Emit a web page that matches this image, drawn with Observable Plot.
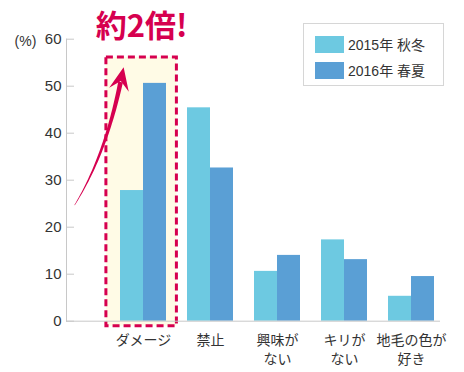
<!DOCTYPE html>
<html><head><meta charset="utf-8">
<script src="https://cdn.jsdelivr.net/npm/d3@7"></script>
<script src="https://cdn.jsdelivr.net/npm/@observablehq/plot@0.6"></script>
<style>
body{margin:0;background:#fff;}
#wrap{position:relative;width:464px;height:372px;font-family:"Liberation Sans","Noto Sans CJK JP",sans-serif;}
#legend{position:absolute;left:303px;top:23px;width:141px;height:63px;border:1px solid #d6d6d6;box-sizing:border-box;background:#fff;}
.item{position:absolute;left:11px;display:flex;align-items:center;font-size:14px;color:#333;white-space:pre;}
.sw{width:29px;height:17px;margin-right:4px;}
</style></head>
<body><div id="wrap"></div>
<script>
const categories = ["ダメージ", "禁止", "興味が\nない", "キリが\nない", "地毛の色が\n好き"];
const series = ["2015年 秋冬", "2016年 春夏"];
const values2015 = [27.8, 45.4, 10.6, 17.3, 5.3];
const values2016 = [50.6, 32.6, 14.0, 13.1, 9.5];
const yTicks = [0, 10, 20, 30, 40, 50, 60];
const colors = ["#6dc9e1", "#5a9fd5"];
const title = "約2倍!";
const unitLabel = "(%)";
const highlight = "ダメージ";
const highlightTop = 56.1;
const arrowValues = [24.6, 35.3, 50.8]; // tail, bend, head (y values)

const crimson = "#d6004f";
const axisGray = "#c8c8c8";
const font = '"Liberation Sans","Noto Sans CJK JP",sans-serif';

const rows = categories.flatMap((c, i) => [
  {cat: c, series: series[0], value: values2015[i]},
  {cat: c, series: series[1], value: values2016[i]}
]);

const W = 464, H = 372, mL = 66, mR = 24, mT = 38.7, mB = 51.3;
const half = 23;
const shift = -3.4; // annotation offset relative to the highlighted band centre

const plot = Plot.plot({
  width: W, height: H,
  marginLeft: mL, marginRight: mR, marginTop: mT, marginBottom: mB,
  style: {fontFamily: font, fontSize: "14px", color: "#333", background: "transparent", overflow: "visible"},
  x: {type: "band", domain: categories, range: [118.6, 434.6], paddingInner: 0.3185, paddingOuter: 0, align: 0.5, label: null},
  y: {domain: [0, 60], label: null},
  color: {domain: series, range: colors},
  marks: [
    Plot.barY([highlight], {x: d => d, y1: 0, y2: highlightTop, insetLeft: -14.1, insetRight: -10.4, insetBottom: -5,
      fill: "#fffbe6", stroke: crimson, strokeWidth: 3, strokeDasharray: "7,4"}),
    Plot.barY(rows.filter(d => d.series === series[0]), {x: "cat", y: "value", fill: "series", insetRight: half}),
    Plot.barY(rows.filter(d => d.series === series[1]), {x: "cat", y: "value", fill: "series", insetLeft: half}),
    Plot.frame({anchor: "left", stroke: axisGray}),
    Plot.ruleY([0], {stroke: axisGray}),
    Plot.tickY(yTicks, {y: d => d, stroke: axisGray, insetRight: (W - mL - mR) - 8}),
    Plot.axisY(yTicks, {tickSize: 0, tickPadding: 5, fontSize: 15, fill: "#333", tickFormat: d => d, label: null}),
    Plot.axisX({tickSize: 0, tickPadding: 10, fontSize: 14, fill: "#333", lineHeight: 1.35, label: null}),
    Plot.text([title], {x: () => highlight, frameAnchor: "top", lineAnchor: "middle", textAnchor: "middle",
      dy: -12.5, dx: shift + 1.5, fill: crimson,
      fontSize: 31, fontWeight: "bold", fontFamily: '"Noto Sans CJK JP",sans-serif'}),
    Plot.text([unitLabel], {frameAnchor: "top-left", lineAnchor: "middle", textAnchor: "middle",
      dx: -41, dy: 2, fontSize: 14, fill: "#333", letterSpacing: "1px"})
  ]
});

// curved tapered arrow annotation, placed with the plot's own scales
const sx = plot.scale("x"), sy = plot.scale("y");
const cx = sx.apply(highlight) + sx.bandwidth / 2 + shift;
const P0 = [cx - 65, sy.apply(arrowValues[0])];
const C = [cx - 34, sy.apply(arrowValues[1])];
const P2 = [cx - 19, sy.apply(arrowValues[2])];
const left = [], right = [];
const N = 40;
for (let i = 0; i <= N; i++) {
  const t = i / N;
  const bx = (1 - t) * (1 - t) * P0[0] + 2 * (1 - t) * t * C[0] + t * t * P2[0];
  const by = (1 - t) * (1 - t) * P0[1] + 2 * (1 - t) * t * C[1] + t * t * P2[1];
  let tx = 2 * (1 - t) * (C[0] - P0[0]) + 2 * t * (P2[0] - C[0]);
  let ty = 2 * (1 - t) * (C[1] - P0[1]) + 2 * t * (P2[1] - C[1]);
  const l = Math.hypot(tx, ty); tx /= l; ty /= l;
  const w = (0.5 + 4.2 * t) / 2;
  left.push([bx - ty * w, by + tx * w]);
  right.push([bx + ty * w, by - tx * w]);
}
const shaft = left.concat(right.reverse());
let dx = P2[0] - C[0], dy = P2[1] - C[1];
const dl = Math.hypot(dx, dy); dx /= dl; dy /= dl;
const nx = -dy, ny = dx;
const tip = [P2[0] + dx * 15, P2[1] + dy * 15];
const b1 = [P2[0] - dx * 8 + nx * 10, P2[1] - dy * 8 + ny * 10];
const b2 = [P2[0] - dx * 8 - nx * 10, P2[1] - dy * 8 - ny * 10];
const notch = [P2[0] + dx * 1, P2[1] + dy * 1];
const g = d3.select(plot).append("g");
g.append("path").attr("d", d3.line()(shaft) + "Z").attr("fill", crimson);
g.append("path").attr("d", d3.line()([tip, b1, notch, b2]) + "Z").attr("fill", crimson);

const wrap = document.getElementById("wrap");
wrap.appendChild(plot);
const legend = document.createElement("div");
legend.id = "legend";
series.forEach((s, i) => {
  const it = document.createElement("div");
  it.className = "item";
  it.style.top = (i === 0 ? 10 : 36) + "px";
  const sw = document.createElement("span");
  sw.className = "sw";
  sw.style.background = colors[i];
  const tx = document.createElement("span");
  tx.textContent = s;
  it.appendChild(sw); it.appendChild(tx);
  legend.appendChild(it);
});
wrap.appendChild(legend);
</script>
</body></html>
